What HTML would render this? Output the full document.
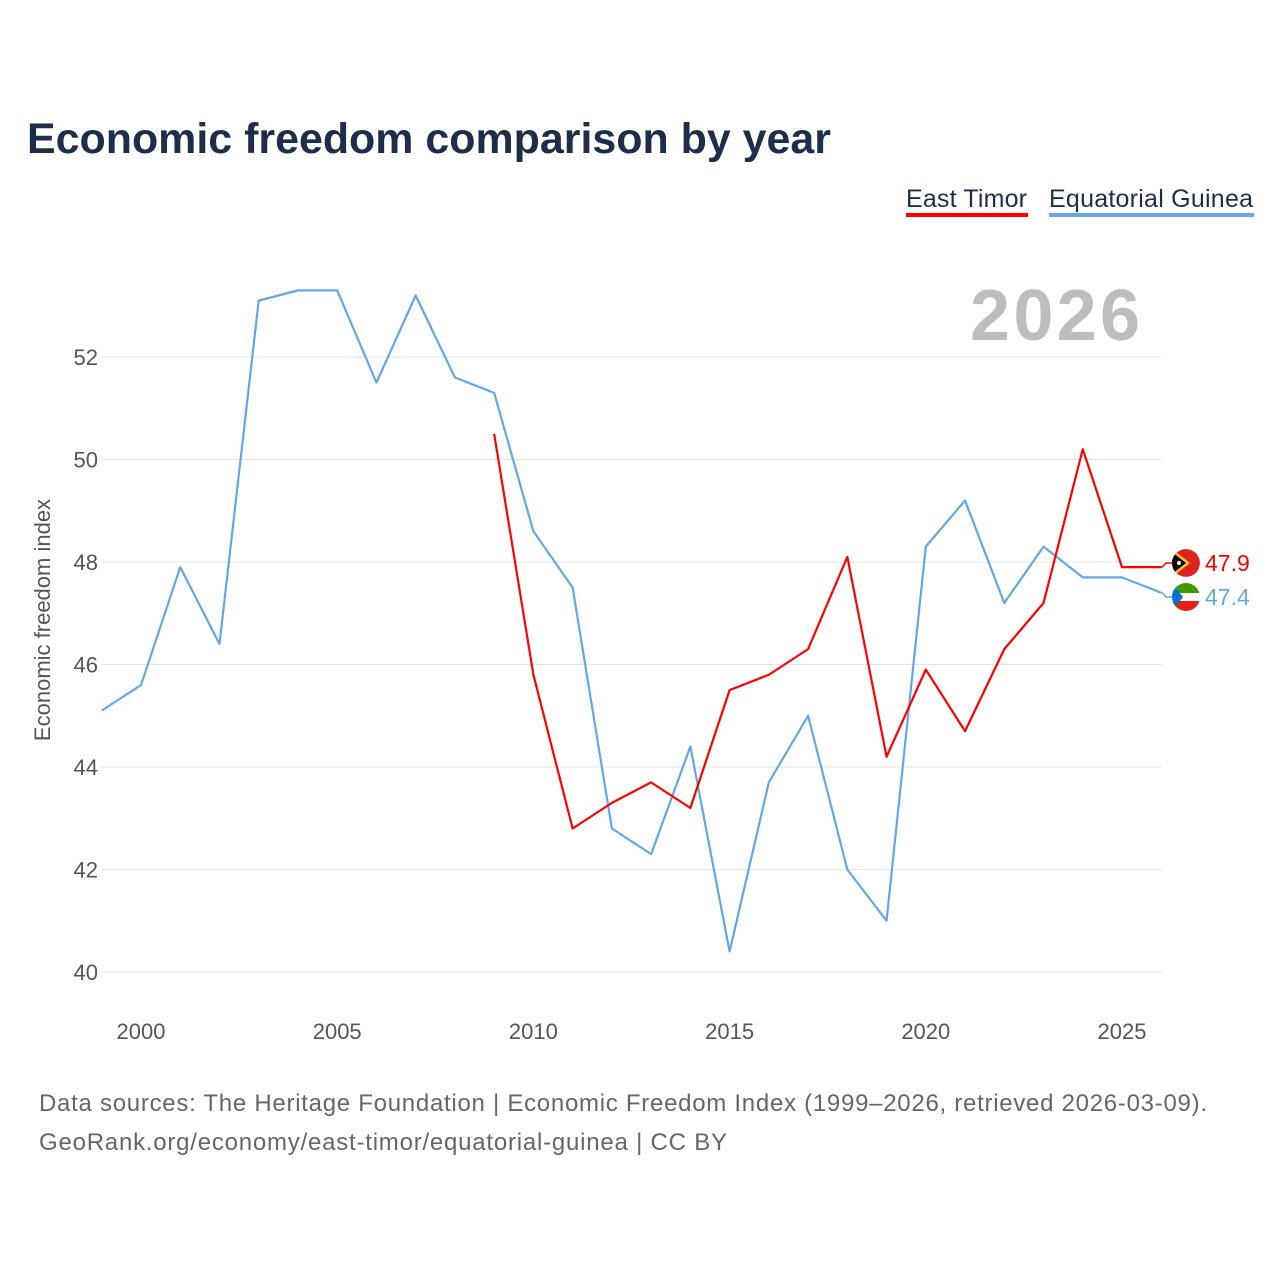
<!DOCTYPE html>
<html><head><meta charset="utf-8"><style>
body{margin:0;background:#fff;font-family:"Liberation Sans",sans-serif;}
</style></head><body>
<svg id="chart" width="1280" height="1280" xmlns="http://www.w3.org/2000/svg" style="font-family:'Liberation Sans',sans-serif">
<defs>
<clipPath id="c1"><circle cx="1186" cy="563" r="14"/></clipPath>
<clipPath id="c2"><circle cx="1186" cy="597" r="14"/></clipPath>
</defs>
<text x="27" y="153" font-size="43" font-weight="bold" fill="#1c2e4a" textLength="804" lengthAdjust="spacingAndGlyphs">Economic freedom comparison by year</text>
<g>
<text x="906" y="207" font-size="25" fill="#1c2e4a" textLength="121">East Timor</text>
<rect x="906" y="213" width="122" height="4" fill="#ff0000"/>
<text x="1049" y="207" font-size="25" fill="#1c2e4a" textLength="204">Equatorial Guinea</text>
<rect x="1049" y="213" width="205" height="4" fill="#62a8e8"/>
</g>
<text x="1140" y="340" font-size="72" font-weight="bold" fill="#bdbdbd" text-anchor="end" textLength="170">2026</text>
<text transform="translate(50,620) rotate(-90)" font-size="22" fill="#555" text-anchor="middle">Economic freedom index</text>
<g id="grid"></g><g id="lines"></g>
<text x="39" y="1111" font-size="24" fill="#666" textLength="1168">Data sources: The Heritage Foundation | Economic Freedom Index (1999–2026, retrieved 2026-03-09).</text>
<text x="39" y="1150" font-size="24" fill="#666" textLength="688">GeoRank.org/economy/east-timor/equatorial-guinea | CC BY</text>
</svg>
<script>
const years=[1999,2000,2001,2002,2003,2004,2005,2006,2007,2008,2009,2010,2011,2012,2013,2014,2015,2016,2017,2018,2019,2020,2021,2022,2023,2024,2025,2026];
const guinea=[45.1,45.6,47.9,46.4,53.1,53.3,53.3,51.5,53.2,51.6,51.3,48.6,47.5,42.8,42.3,44.4,40.4,43.7,45.0,42.0,41.0,48.3,49.2,47.2,48.3,47.7,47.7,47.4];
const timor=[null,null,null,null,null,null,null,null,null,null,50.5,45.8,42.8,43.3,43.7,43.2,45.5,45.8,46.3,48.1,44.2,45.9,44.7,46.3,47.2,50.2,47.9,47.9];
const yTicks=[40,42,44,46,48,50,52];
const xTicks=[2000,2005,2010,2015,2020,2025];
const X=y=>141+(y-2000)*39.24, Y=v=>972-(v-40)*51.25;
const NS="http://www.w3.org/2000/svg";
const grid=document.getElementById('grid'), lines=document.getElementById('lines');
function mk(t,a,p){const e=document.createElementNS(NS,t);for(const k in a)e.setAttribute(k,a[k]);p.appendChild(e);return e;}
yTicks.forEach(v=>{
 const l=mk('line',{x1:101,x2:1162,y1:Y(v),y2:Y(v),stroke:'#e6e6e6','stroke-width':1},grid);
 
 
 const t=mk('text',{x:98,y:Y(v)+8,'font-size':22,fill:'#555','text-anchor':'end'},grid);t.textContent=v;
 
 
});
xTicks.forEach(v=>{
 const t=mk('text',{x:X(v),y:1039,'font-size':22,fill:'#555','text-anchor':'middle'},grid);t.textContent=v;
 
 
});
function series(vals,color,name){
 let d='';vals.forEach((v,i)=>{if(v==null)return;d+=(d?'L':'M')+X(years[i])+','+Y(v);});
 const p=mk('path',{d:d,fill:'none',stroke:color,'stroke-width':2.2,'stroke-linejoin':'round'},lines);
 
 
}
series(guinea,'#62a8e8','line-equatorial-guinea');
series(timor,'#ff0000','line-east-timor');
const lt=timor[timor.length-1], lg=guinea[guinea.length-1];
const fx=1186, ty=563, gy=597;
mk('path',{d:`M${X(2026)},${Y(lt)}L1162,${Y(lt)}L1166,${ty}L1172,${ty}`,stroke:'#ff0000','stroke-width':1.5,fill:'none'},lines);
mk('path',{d:`M${X(2026)},${Y(lg)}L1162,${Y(lg)}L1166,${gy}L1172,${gy}`,stroke:'#62a8e8','stroke-width':1.5,fill:'none'},lines);
const f1=mk('g',{'clip-path':'url(#c1)'},lines);


mk('circle',{cx:fx,cy:ty,r:14,fill:'#dc241f'},f1);
mk('path',{d:`M${fx-14},${ty-14}L${fx+4},${ty}L${fx-14},${ty+14}Z`,fill:'#ffc726'},f1);
mk('path',{d:`M${fx-14},${ty-11}L${fx},${ty}L${fx-14},${ty+11}Z`,fill:'#000'},f1);
mk('circle',{cx:fx-7,cy:ty,r:2,fill:'#fff'},f1);
const f2=mk('g',{'clip-path':'url(#c2)'},lines);


mk('rect',{x:fx-14,y:gy-14,width:28,height:28,fill:'#fff'},f2);
mk('rect',{x:fx-14,y:gy-14,width:28,height:10,fill:'#3e9a00'},f2);
mk('rect',{x:fx-14,y:gy+4,width:28,height:10,fill:'#e32118'},f2);
mk('path',{d:`M${fx-14},${gy-14}L${fx-3},${gy}L${fx-14},${gy+14}Z`,fill:'#0073ce'},f2);
const a=mk('text',{x:1205,y:ty+8,'font-size':23,fill:'#ff0000'},lines);a.textContent=lt.toFixed(1);


const b=mk('text',{x:1205,y:gy+8,'font-size':23,fill:'#62a8e8'},lines);b.textContent=lg.toFixed(1);


</script>
</body></html>
